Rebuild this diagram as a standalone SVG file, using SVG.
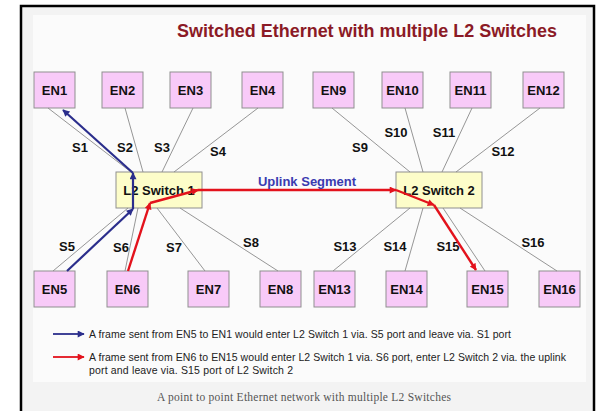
<svg xmlns="http://www.w3.org/2000/svg" width="599" height="411" viewBox="0 0 599 411">
  <style>
    .en { fill: #f8caf8; stroke: #8f8f8f; stroke-width: 1; }
    .sw { fill: #fdfdc9; stroke: #8f8f8f; stroke-width: 1; }
    .lbl { font-family: "Liberation Sans", Arial, sans-serif; font-size: 13px; font-weight: bold; fill: #111; text-anchor: middle; }
    .port { fill: none; stroke: #8a8a8a; stroke-width: 0.9; }
    .blue { fill: none; stroke: #2b2e8c; stroke-width: 2.2; marker-end: url(#ahBlue); }
    .red { fill: none; stroke: #e3121c; stroke-width: 2.4; marker-end: url(#ahRed); }
    .legend { font-family: "Liberation Sans", Arial, sans-serif; font-size: 10.5px; fill: #222; }
  </style>
  <defs>
    <marker id="ahBlue" viewBox="0 0 10 10" refX="9" refY="5" markerWidth="8" markerHeight="7" markerUnits="userSpaceOnUse" orient="auto">
      <path d="M0,0 L10,5 L0,10 Z" fill="#2b2e8c"/>
    </marker>
    <marker id="ahRed" viewBox="0 0 10 10" refX="9" refY="5" markerWidth="8" markerHeight="7" markerUnits="userSpaceOnUse" orient="auto">
      <path d="M0,0 L10,5 L0,10 Z" fill="#e3121c"/>
    </marker>
  </defs>

  <!-- page, frame and panel -->
  <rect x="0" y="0" width="599" height="411" fill="#ffffff"/>
  <rect x="21" y="6" width="573" height="410" fill="#f3f3f3" stroke="#000" stroke-width="2.5"/>
  <rect x="33" y="15" width="553" height="367" fill="#fbfbfb"/>

  <text x="177" y="37" font-family="Liberation Sans, Arial, sans-serif" font-size="18" font-weight="bold" fill="#8b1a26" textLength="380" lengthAdjust="spacingAndGlyphs">Switched Ethernet with multiple L2 Switches</text>

  <!-- port labels -->
  <g id="port-labels" class="lbl">
    <text x="80" y="151.5">S1</text>
    <text x="125" y="151.5">S2</text>
    <text x="162" y="151.5">S3</text>
    <text x="218" y="155.5">S4</text>
    <text x="67" y="250.5">S5</text>
    <text x="121" y="251.5">S6</text>
    <text x="174" y="251.5">S7</text>
    <text x="251" y="246.5">S8</text>
    <text x="360" y="151.5">S9</text>
    <text x="396" y="136.5">S10</text>
    <text x="444" y="136.5">S11</text>
    <text x="503" y="155.5">S12</text>
    <text x="345" y="250.5">S13</text>
    <text x="395" y="250.5">S14</text>
    <text x="448" y="250.5">S15</text>
    <text x="533" y="246.5">S16</text>
  </g>

  <!-- switches -->
  <g id="switch1"><rect class="sw" x="116" y="172" width="86" height="36"/><text class="lbl" x="159" y="194.5">L2 Switch 1</text></g>
  <g id="switch2"><rect class="sw" x="396" y="172" width="86" height="36"/><text class="lbl" x="439" y="194.5">L2 Switch 2</text></g>

  <!-- end nodes, top row -->
  <g id="en1"><rect class="en" x="34" y="72" width="41" height="36"/><text class="lbl" x="54.5" y="94.5">EN1</text></g>
  <g id="en2"><rect class="en" x="102" y="72" width="41" height="36"/><text class="lbl" x="122.5" y="94.5">EN2</text></g>
  <g id="en3"><rect class="en" x="170" y="72" width="41" height="36"/><text class="lbl" x="190.5" y="94.5">EN3</text></g>
  <g id="en4"><rect class="en" x="242" y="72" width="41" height="36"/><text class="lbl" x="262.5" y="94.5">EN4</text></g>
  <g id="en9"><rect class="en" x="313" y="72" width="41" height="36"/><text class="lbl" x="333.5" y="94.5">EN9</text></g>
  <g id="en10"><rect class="en" x="382" y="72" width="41" height="36"/><text class="lbl" x="402.5" y="94.5">EN10</text></g>
  <g id="en11"><rect class="en" x="450" y="72" width="41" height="36"/><text class="lbl" x="470.5" y="94.5">EN11</text></g>
  <g id="en12"><rect class="en" x="523" y="72" width="41" height="36"/><text class="lbl" x="543.5" y="94.5">EN12</text></g>

  <!-- end nodes, bottom row -->
  <g id="en5"><rect class="en" x="34" y="271" width="41" height="36"/><text class="lbl" x="54.5" y="293.5">EN5</text></g>
  <g id="en6"><rect class="en" x="107" y="271" width="41" height="36"/><text class="lbl" x="127.5" y="293.5">EN6</text></g>
  <g id="en7"><rect class="en" x="188" y="271" width="41" height="36"/><text class="lbl" x="208.5" y="293.5">EN7</text></g>
  <g id="en8"><rect class="en" x="260" y="271" width="41" height="36"/><text class="lbl" x="280.5" y="293.5">EN8</text></g>
  <g id="en13"><rect class="en" x="314" y="271" width="41" height="36"/><text class="lbl" x="334.5" y="293.5">EN13</text></g>
  <g id="en14"><rect class="en" x="386" y="271" width="41" height="36"/><text class="lbl" x="406.5" y="293.5">EN14</text></g>
  <g id="en15"><rect class="en" x="467" y="271" width="41" height="36"/><text class="lbl" x="487.5" y="293.5">EN15</text></g>
  <g id="en16"><rect class="en" x="539" y="271" width="41" height="36"/><text class="lbl" x="559.5" y="293.5">EN16</text></g>

  <!-- connectors, drawn over the boxes so the frame paths cross the switches -->
  <g id="connectors">
    <!-- switch 1 ports -->
    <line class="port" x1="48" y1="108" x2="131" y2="172"/>
    <line class="port" x1="125" y1="108" x2="143" y2="172"/>
    <line class="port" x1="193" y1="108" x2="162" y2="172"/>
    <line class="port" x1="258" y1="108" x2="174" y2="172"/>
    <line class="port" x1="53" y1="271" x2="128" y2="208"/>
    <line class="port" x1="125" y1="271" x2="138" y2="208"/>
    <line class="port" x1="205" y1="271" x2="157" y2="208"/>
    <line class="port" x1="278" y1="271" x2="180" y2="208"/>
    <!-- switch 2 ports -->
    <line class="port" x1="332" y1="108" x2="410" y2="172"/>
    <line class="port" x1="405" y1="108" x2="423" y2="172"/>
    <line class="port" x1="472" y1="108" x2="442" y2="172"/>
    <line class="port" x1="540" y1="108" x2="456" y2="172"/>
    <line class="port" x1="333" y1="271" x2="410" y2="208"/>
    <line class="port" x1="405" y1="271" x2="423" y2="208"/>
    <line class="port" x1="485" y1="271" x2="443" y2="208"/>
    <line class="port" x1="557" y1="271" x2="460" y2="208"/>

    <!-- EN5 to EN1 frame path -->
    <line class="blue" x1="67" y1="271" x2="133" y2="209"/>
    <line class="blue" x1="133" y1="209" x2="133" y2="173"/>
    <line class="blue" x1="133" y1="173" x2="63" y2="110"/>

    <!-- EN6 to EN15 frame path -->
    <line class="red" x1="128" y1="271" x2="150" y2="203"/>
    <line class="red" x1="150" y1="203" x2="198" y2="190"/>
    <line class="red" x1="198" y1="190" x2="396" y2="190"/>
    <line class="red" x1="396" y1="190" x2="434" y2="205"/>
    <line class="red" x1="434" y1="205" x2="476" y2="270"/>
  </g>

  <text x="307" y="186" font-family="Liberation Sans, Arial, sans-serif" font-size="13" font-weight="bold" fill="#3a3ab0" text-anchor="middle">Uplink Segment</text>

  <!-- legend -->
  <g id="legend">
    <line x1="53" y1="334" x2="84" y2="334" stroke="#2b2e8c" stroke-width="1.8" marker-end="url(#ahBlue)"/>
    <line x1="53" y1="357" x2="84" y2="357" stroke="#e3121c" stroke-width="1.8" marker-end="url(#ahRed)"/>
    <text class="legend" x="89" y="338" textLength="422" lengthAdjust="spacing">A frame sent from EN5 to EN1 would enter L2 Switch 1 via.  S5 port and leave via.  S1 port</text>
    <text class="legend" x="89" y="361" textLength="477" lengthAdjust="spacing">A frame sent from EN6 to EN15 would enter L2 Switch 1 via.  S6 port, enter L2 Switch 2 via.  the uplink</text>
    <text class="legend" x="89" y="374" textLength="204" lengthAdjust="spacing">port and leave via.  S15 port of L2 Switch 2</text>
  </g>

  <text x="304" y="401" font-family="Liberation Serif, Times New Roman, serif" font-size="11.5" fill="#555" text-anchor="middle" textLength="294" lengthAdjust="spacing">A point to point Ethernet network with multiple L2 Switches</text>
</svg>
